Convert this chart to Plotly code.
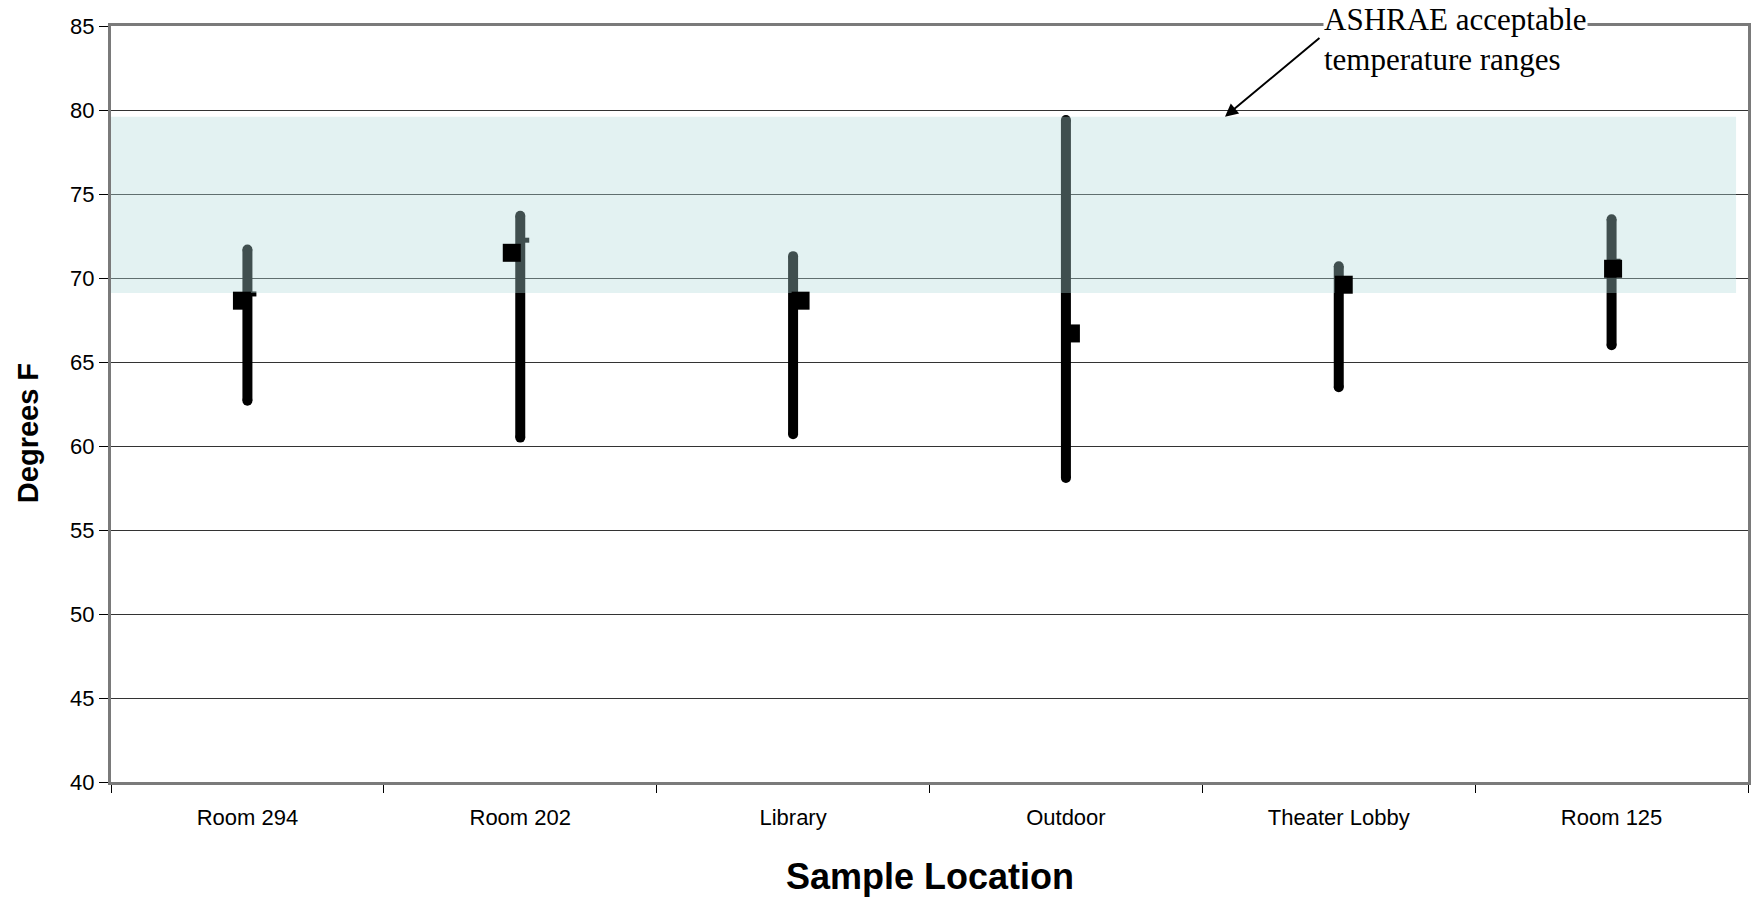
import plotly.graph_objects as go

# ---------------- data ----------------
categories = ["Room 294", "Room 202", "Library", "Outdoor", "Theater Lobby", "Room 125"]
low_temp = [62.7, 60.5, 60.7, 58.1, 63.5, 66.0]
high_temp = [71.7, 73.7, 71.3, 79.4, 70.7, 73.5]
avg_temp = [68.65, 71.5, 68.65, 66.7, 69.6, 70.55]
close_temp = [69.05, 72.25, None, None, None, 71.0]
ashrae_low = 69.1
ashrae_high = 79.6
y_ticks = [40, 45, 50, 55, 60, 65, 70, 75, 80, 85]

# ---------------- style ----------------
W, H = 1763, 901
ML, MR, MT, MB = 111, 12, 26, 119
plot_w = W - ML - MR
cat_px = plot_w / len(categories)
square_offset_px = [-5.5, -8.5, 7.5, 5, 5, 1.5]
close_offset_px = 6.5

xs = list(range(len(categories)))

# high-low lines
lx, ly = [], []
for i, (lo, hi) in enumerate(zip(low_temp, high_temp)):
    lx += [i, i, None]
    ly += [lo, hi, None]

fig = go.Figure()
fig.add_trace(go.Scatter(
    x=lx, y=ly, mode="lines+markers",
    line=dict(color="black", width=10),
    marker=dict(symbol="circle", size=10, color="black"),
    hoverinfo="skip", showlegend=False))

# small close ticks
cx = [i + close_offset_px / cat_px for i, v in enumerate(close_temp) if v is not None]
cy = [v for v in close_temp if v is not None]
fig.add_trace(go.Scatter(
    x=cx, y=cy, mode="markers",
    marker=dict(symbol="square", size=5, color="black", line=dict(width=0)),
    showlegend=False))

# ASHRAE band (semi-transparent overlay)
band_x0, band_x1 = -0.5, -0.5 + (1739 - ML) / cat_px
fig.add_trace(go.Scatter(
    x=[band_x0, band_x1, band_x1, band_x0, band_x0],
    y=[ashrae_low, ashrae_low, ashrae_high, ashrae_high, ashrae_low],
    mode="lines", fill="toself", fillcolor="rgba(178,220,220,0.36)",
    line=dict(width=0), hoverinfo="skip", showlegend=False))

# average squares
sx = [i + o / cat_px for i, o in zip(xs, square_offset_px)]
fig.add_trace(go.Scatter(
    x=sx, y=avg_temp, mode="markers",
    marker=dict(symbol="square", size=18, color="black", line=dict(width=0)),
    showlegend=False))

font_sans = "Liberation Sans, Arial, sans-serif"
border = "#7a7a7a"

fig.update_layout(
    width=W, height=H,
    margin=dict(l=ML, r=MR, t=MT, b=MB),
    paper_bgcolor="white", plot_bgcolor="white",
    font=dict(family=font_sans, color="black", size=22),
    showlegend=False,
    xaxis=dict(
        range=[-0.5, len(categories) - 0.5],
        tickmode="array", tickvals=xs, ticktext=categories,
        ticks="outside", ticklen=14, tickcolor="rgba(0,0,0,0)",
        tickfont=dict(size=22, family=font_sans),
        minor=dict(tickmode="array",
                   tickvals=[i - 0.5 for i in range(len(categories) + 1)],
                   ticks="outside", ticklen=8, tickcolor="black", tickwidth=1,
                   showgrid=False),
        showgrid=False, zeroline=False,
        showline=True, mirror=True, linecolor=border, linewidth=3,
    ),
    yaxis=dict(
        range=[40, 85], tickmode="array", tickvals=y_ticks,
        ticks="outside", ticklen=9, tickcolor="black", tickwidth=1,
        tickfont=dict(size=22, family=font_sans),
        showgrid=True, gridcolor="#333333", gridwidth=1,
        zeroline=False,
        showline=True, mirror=True, linecolor=border, linewidth=3,
    ),
    annotations=[
        dict(text="<b>Sample Location</b>", xref="paper", yref="paper",
             x=0.5, y=-(876 - (H - MB)) / (H - MT - MB), xanchor="center", yanchor="middle",
             showarrow=False, font=dict(size=36, family=font_sans, color="black")),
        dict(text="<b>Degrees F</b>", xref="paper", yref="paper",
             x=(28 - ML) / plot_w, y=((H - MB) - 433) / (H - MT - MB),
             xanchor="center", yanchor="middle", textangle=-90,
             showarrow=False, font=dict(size=29, family=font_sans, color="black")),
        dict(text="", x=-0.5 + (1227 - ML) / cat_px, y=ashrae_high, xref="x", yref="y",
             showarrow=True, arrowhead=2, arrowsize=1.3, arrowwidth=2, arrowcolor="black",
             ax=96, ay=-80),
        dict(text="ASHRAE acceptable<br>temperature ranges", xref="paper", yref="paper",
             x=(1325 - ML) / plot_w, y=1 + (MT - 1) / (H - MT - MB),
             xanchor="left", yanchor="top", align="left", showarrow=False,
             bgcolor="white", borderpad=0,
             font=dict(size=31, family="Liberation Serif, Times New Roman, serif", color="black")),
    ],
)

fig.write_html("out.html")
